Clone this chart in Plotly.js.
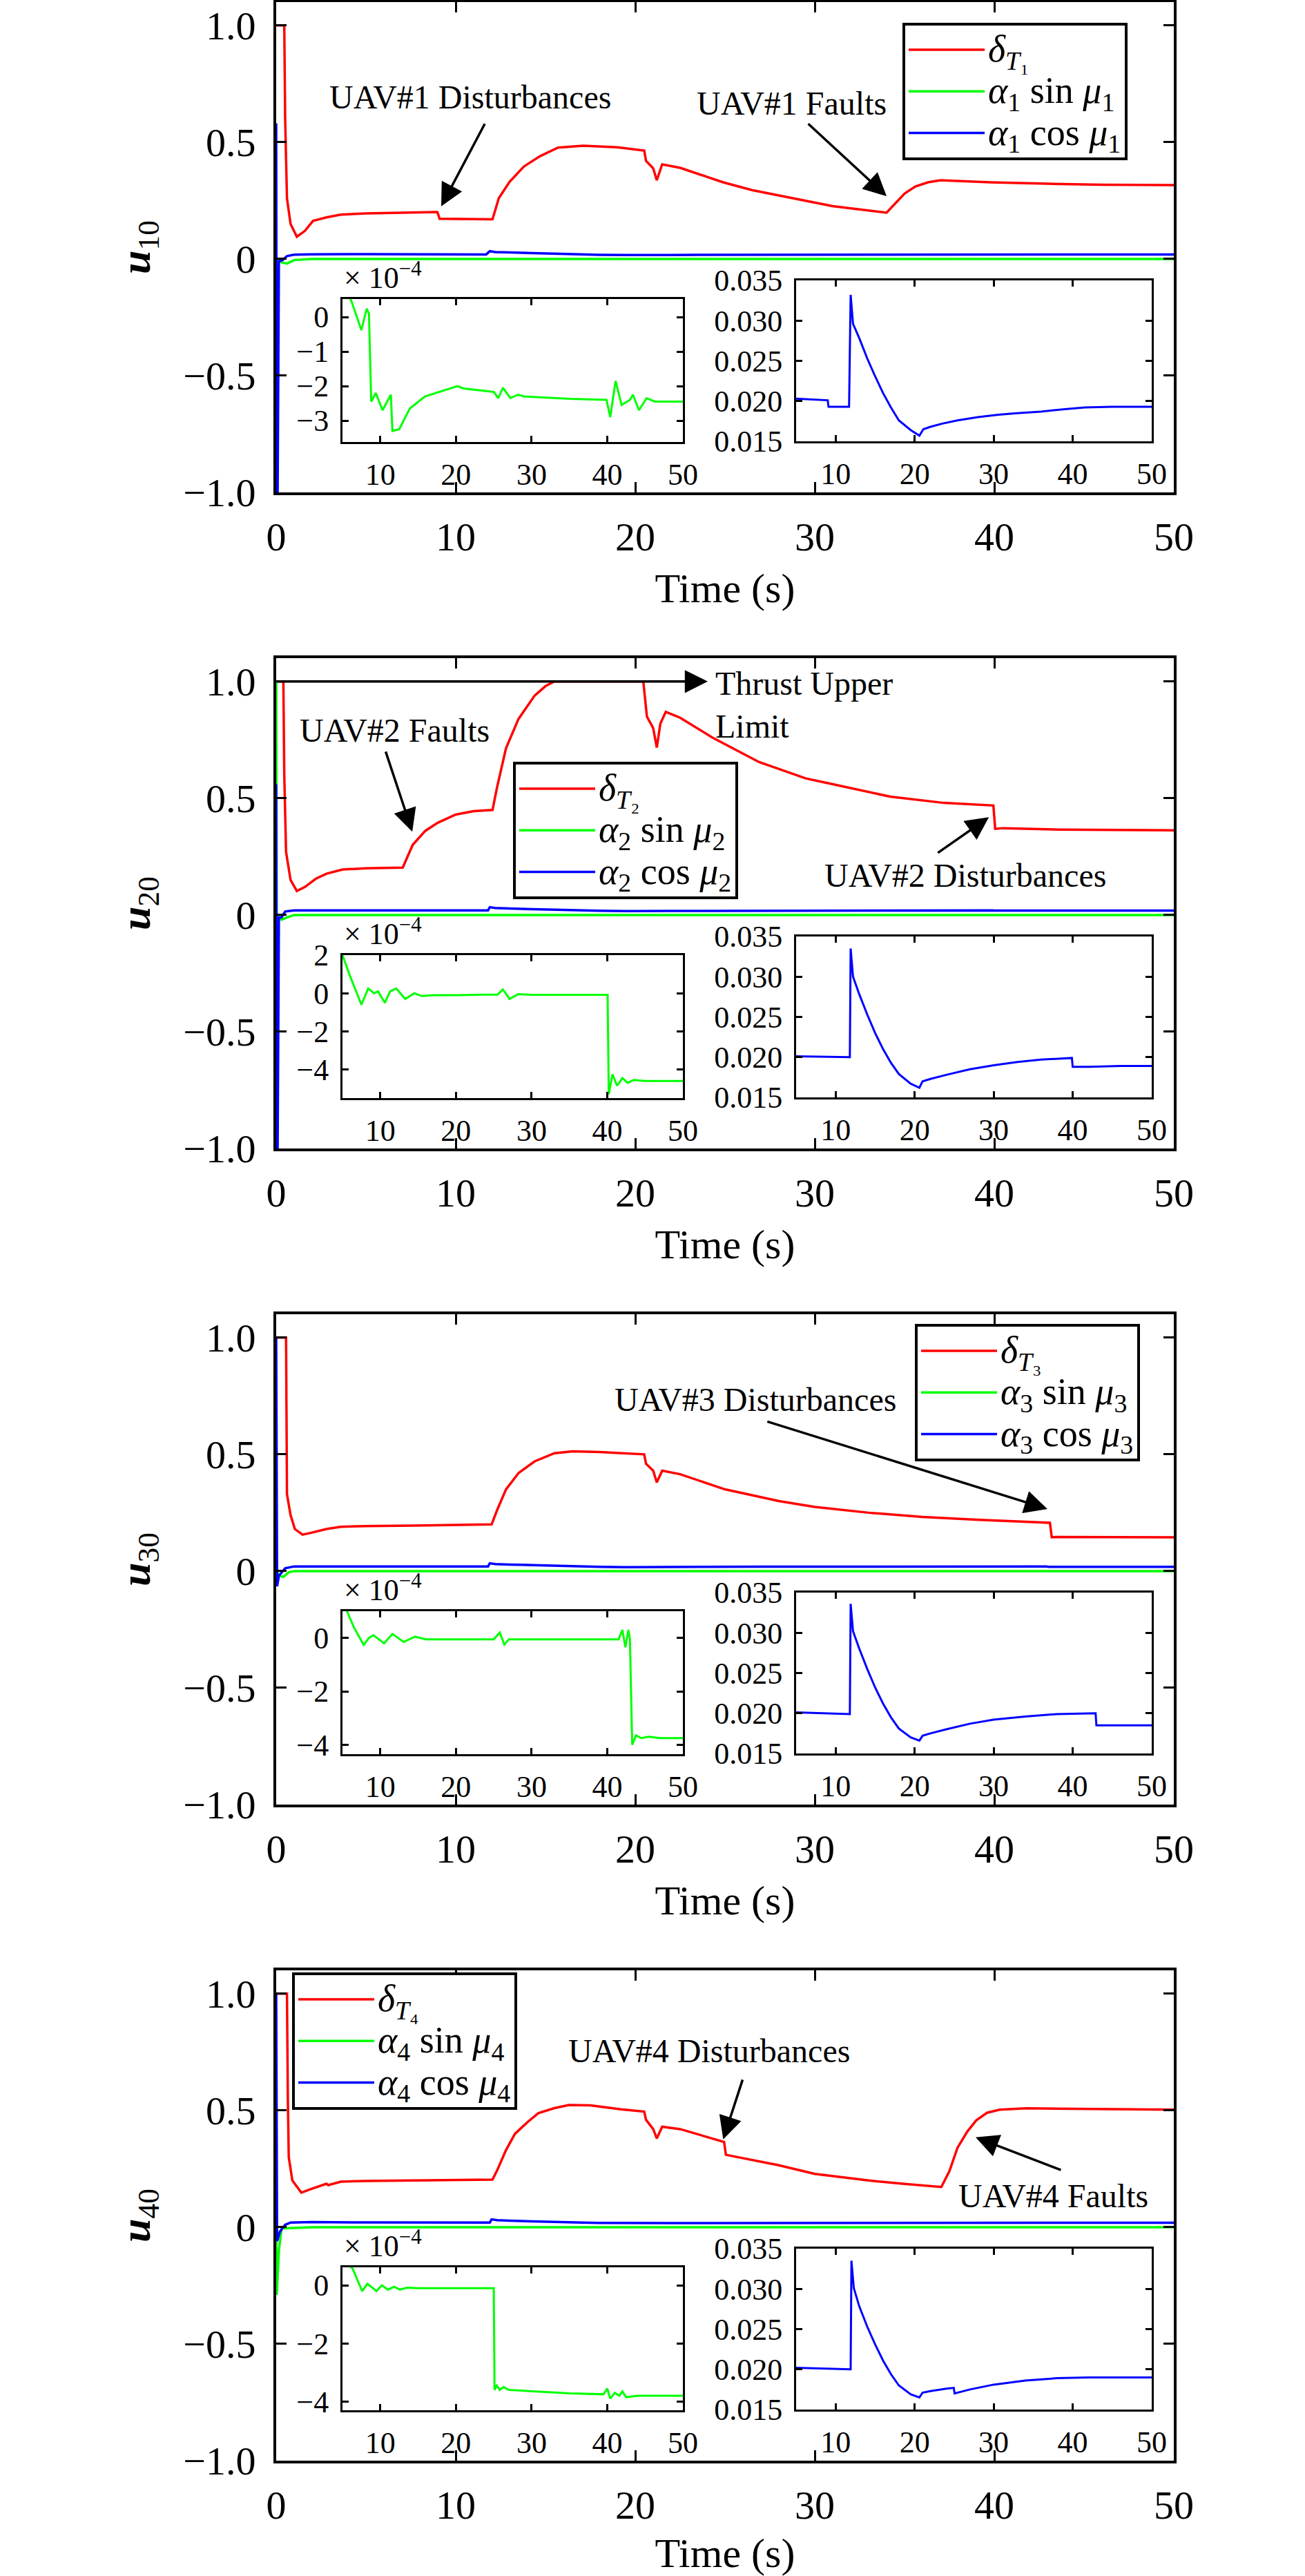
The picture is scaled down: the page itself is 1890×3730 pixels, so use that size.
<!DOCTYPE html>
<html>
<head>
<meta charset="utf-8">
<script src="https://cdn.plot.ly/plotly-3.0.1.min.js"></script>
<style>
  body{margin:0;background:#fff}
  #chart{width:1890px;height:3730px}
</style>
</head>
<body>
<div id="chart"></div>
<script>
"use strict"

// ---- panel 1 : UAV#1 ----
const p1RedT = [0,0.45,0.5,0.6,0.8,1.15,1.6,2.05,2.8,3.3,3.6,5,6.4,8.97,9.05,9.1,11.95,12.05,12.4,13,13.8,14.7,15.7,17.1,19,20.5,20.6,21.0,21.2,21.5,22.5,24.9,26.5,28.7,31,34.0,34.5,35,35.6,36.3,37,39.8,43,46,50]
const p1RedV = [1.0,1.0,0.6,0.26,0.15,0.095,0.12,0.163,0.178,0.185,0.19,0.195,0.198,0.201,0.185,0.172,0.17,0.17,0.26,0.33,0.396,0.44,0.477,0.485,0.478,0.464,0.42,0.388,0.337,0.405,0.39,0.328,0.295,0.26,0.226,0.198,0.24,0.28,0.31,0.328,0.337,0.328,0.322,0.318,0.316]
const p1GreenT0 = [0,0.1,0.3,0.6,1.0,2]
const p1GreenV0 = [0,-0.005,-0.015,-0.02,-0.005,0]
const p1GreenT = [5,6.2,7.5,8.2,8.5,8.8,9.4,10.3,11.4,11.6,12.5,13.9,15.9,18.4,20.2,21,25,25.6,26.2,27.2,28.2,29,35.1,39.9,40.4,41.1,41.9,43,43.4,44.2,45.2,46.3,50]
const p1GreenV = [1.0,0.45,-0.38,0.24,0.1,-2.45,-2.2,-2.7,-2.25,-3.3,-3.25,-2.65,-2.3,-2.12,-2.0,-2.07,-2.17,-2.35,-2.05,-2.35,-2.25,-2.3,-2.37,-2.4,-2.9,-1.85,-2.55,-2.4,-2.25,-2.7,-2.35,-2.45,-2.45]
const p1BlueT0 = [0,0.03,0.08,0.15,0.35,0.6,1.0,2]
const p1BlueV0 = [0.58,-1.0,-1.0,-0.01,-0.005,0.012,0.018,0.02]
const p1BlueT = [5,9,9.1,11.7,11.9,12.2,13,14,14.9,16,17,18,19.5,20.6,21.1,22,23.5,25.4,28,30.6,33,36,39,41.5,45,50]
const p1BlueV = [0.0203,0.0201,0.0193,0.0193,0.0332,0.0296,0.0278,0.0253,0.0233,0.0210,0.0192,0.0176,0.0164,0.0157,0.0165,0.0168,0.0172,0.0176,0.018,0.0183,0.0185,0.0187,0.019,0.0192,0.0193,0.0193]

// ---- panel 2 : UAV#2 ----
const p2RedT = [0,0.4,0.45,0.55,0.8,1.15,1.6,2.2,2.8,3.7,5,7.05,7.6,8.3,9,10,11,12.05,12.3,12.8,13.5,14.4,15,15.5,20.45,20.65,21.0,21.2,21.4,21.7,22.5,24.3,26.9,29.5,31,34.2,37.2,39.95,40.05,40.5,43.6,50]
const p2RedV = [1.0,1.0,0.6,0.27,0.15,0.103,0.12,0.155,0.177,0.195,0.2,0.203,0.3,0.36,0.395,0.43,0.445,0.45,0.546,0.714,0.84,0.94,0.98,1.0,1.0,0.85,0.80,0.717,0.82,0.87,0.845,0.76,0.655,0.585,0.56,0.507,0.48,0.469,0.369,0.372,0.366,0.363]
const p2GreenT0 = [0,0.03,0.1,0.3,0.6,1.0,2]
const p2GreenV0 = [1.0,0.0,-0.01,-0.02,-0.01,0,0]
const p2GreenT = [5,6,7.5,8.4,9.2,9.7,10.6,11.3,12.1,13.3,14.5,15.5,17,20,23.6,25.5,26.2,27.1,28.2,30,35,40.05,40.2,40.7,41.3,42,42.7,43.5,45,50]
const p2GreenV = [2.0,0.9,-0.6,0.25,0.0,0.1,-0.5,0.1,0.25,-0.3,0.0,-0.15,-0.1,-0.1,-0.07,-0.07,0.2,-0.3,-0.05,-0.08,-0.08,-0.08,-5.3,-4.25,-4.85,-4.45,-4.7,-4.55,-4.6,-4.6]
const p2BlueT0 = [0,0.03,0.08,0.15,0.3,0.5,1.0,2]
const p2BlueV0 = [0.56,-1.0,-1.0,-0.01,-0.01,0.015,0.02,0.02]
const p2BlueT = [5,11.8,11.9,12.2,13,14,15,16,17,18,19.5,20.6,21.0,22,24,27,30,33,36,39.9,40.0,42,46,50]
const p2BlueV = [0.0201,0.0200,0.0335,0.0300,0.0278,0.0253,0.0230,0.0210,0.0193,0.0179,0.0167,0.0162,0.0170,0.0173,0.0178,0.0185,0.019,0.0194,0.0197,0.0199,0.0188,0.0188,0.0189,0.0189]

// ---- panel 3 : UAV#3 ----
const p3RedT = [0,0.55,0.6,0.8,1.04,1.47,2,2.8,3.6,5,7.7,12.0,12.3,12.8,13.5,14.4,15.5,16.5,18,20.5,20.6,21.0,21.2,21.5,22.5,25,28,30,33,36,39,43.1,43.2,43.5,50]
const p3RedV = [1.0,1.0,0.33,0.24,0.18,0.156,0.165,0.18,0.19,0.193,0.195,0.2,0.26,0.35,0.42,0.47,0.505,0.513,0.51,0.5,0.46,0.43,0.38,0.43,0.415,0.35,0.3,0.275,0.25,0.232,0.22,0.207,0.145,0.146,0.145]
const p3GreenT0 = [0,0.2,0.4,0.7,1.0,2]
const p3GreenV0 = [0,-0.02,-0.025,-0.005,0,0]
const p3GreenT = [5,5.6,6.5,7.8,8.5,9.1,9.8,10.5,11.6,12.3,13.1,14.6,16,20,25,25.8,26.4,27,30,35,41.5,42.0,42.4,42.8,43.0,43.3,43.8,44.5,45.5,47,50]
const p3GreenV = [1.2,1.0,0.4,-0.26,0.0,0.1,-0.05,-0.2,0.15,0.0,-0.15,0.05,-0.05,-0.05,-0.05,0.2,-0.25,-0.05,-0.05,-0.05,-0.05,0.3,-0.35,0.3,-0.05,-4.0,-3.65,-3.75,-3.7,-3.75,-3.75]
const p3BlueT0 = [0,0.05,0.15,0.3,0.5,1.0,2]
const p3BlueV0 = [1.0,-0.065,-0.02,-0.005,0.012,0.02,0.02]
const p3BlueT = [5,11.8,11.9,12.2,13,14,15,16,17,18,19.5,20.6,21.0,22,24,27,30,34,38,42.9,43.0,45,50]
const p3BlueV = [0.0201,0.0199,0.0336,0.0302,0.0280,0.0255,0.0232,0.0212,0.0195,0.0181,0.0170,0.0166,0.0172,0.0175,0.0180,0.0187,0.0192,0.0196,0.0199,0.0200,0.0185,0.0185,0.0185]

// ---- panel 4 : UAV#4 ----
const p4RedT = [0,0.6,0.65,0.7,0.9,1.4,2,2.8,2.9,3.6,5,8,12.05,12.3,12.8,13.3,14,14.6,15.5,16.3,17.5,19.2,20.5,20.6,21.0,21.2,21.5,22.5,24.95,25.05,26,28,30,33,35,37.05,37.5,37.95,38.5,39,39.6,40.3,41.8,45,50]
const p4RedV = [1.0,1.0,0.55,0.3,0.2,0.148,0.165,0.186,0.18,0.195,0.198,0.2,0.204,0.242,0.33,0.40,0.45,0.488,0.51,0.523,0.522,0.505,0.495,0.46,0.42,0.38,0.43,0.42,0.365,0.31,0.295,0.265,0.228,0.2,0.185,0.172,0.24,0.34,0.41,0.458,0.49,0.503,0.509,0.507,0.503]
const p4GreenT0 = [0,0.03,0.15,0.3,0.5,2]
const p4GreenV0 = [0,-0.29,-0.1,-0.005,-0.005,0]
const p4GreenT = [5,6.3,7.6,8.3,8.8,9.5,10.2,11,11.8,12.6,13.5,15,20,25.0,25.1,25.4,25.8,26.3,27,30,35,39.5,40,40.4,41,41.6,42,42.5,44,47,50]
const p4GreenV = [0.8,0.6,-0.2,0.05,-0.05,-0.2,0.0,-0.15,-0.05,-0.15,-0.08,-0.1,-0.1,-0.1,-3.6,-3.45,-3.6,-3.5,-3.6,-3.65,-3.72,-3.75,-3.55,-3.9,-3.7,-3.8,-3.65,-3.85,-3.8,-3.8,-3.8]
const p4BlueT0 = [0,0.05,0.2,0.5,0.8,2]
const p4BlueV0 = [1.0,-0.06,-0.02,0.01,0.02,0.022]
const p4BlueT = [5,11.9,12.0,12.3,13,14,15,16,17,18,19.5,20.6,21.0,22,24,24.95,25.05,27,30,34,38,42,46,50]
const p4BlueV = [0.0202,0.0200,0.0335,0.0301,0.0278,0.0253,0.0231,0.0211,0.0194,0.018,0.0169,0.0165,0.0171,0.0173,0.0176,0.0177,0.0170,0.0175,0.0181,0.0186,0.0189,0.019,0.019,0.019]

// tick labels
const mainXTicks = [0,10,20,30,40,50]
const mainYTicks = [-1,-0.5,0,0.5,1]
const mainYText = ["\u22121.0","\u22120.5","0","0.5","1.0"]
const insetXTicks = [10,20,30,40,50]
const cosTicks = [0.015,0.02,0.025,0.03,0.035]
const cosText = ["0.015","0.020","0.025","0.030","0.035"]
const subDigits = ["\u2081","\u2082","\u2083","\u2084"]

const W = 1890, H = 3730
const FONT = "Liberation Serif, Times New Roman, serif"
const xdom = (x0,x1)=>[x0/W, x1/W]
const ydom = (y0,y1)=>[1-y1/H, 1-y0/H]
const minus = v=>v<0 ? "\u2212"+Math.abs(v) : String(v)
// legend rows keep a tight pitch; entry text itself drawn larger
const big = s=>`<span style="font-size:54px">${s}</span>`

const panels = [
  {red:[p1RedT,p1RedV], g0:[p1GreenT0,p1GreenV0], g:[p1GreenT,p1GreenV], b0:[p1BlueT0,p1BlueV0], b:[p1BlueT,p1BlueV],
   gRange:[-3.62,0.52], gTicks:[-3,-2,-1,0], legend:[1307,33],
   arrows:[[11.65,0.583,9.19,0.225],[29.58,0.583,34.0,0.269]],
   notes:[["UAV#1 Disturbances",10.8,0.692,"center"],["UAV#1 Faults",28.7,0.666,"center"]]},
  {red:[p2RedT,p2RedV], g0:[p2GreenT0,p2GreenV0], g:[p2GreenT,p2GreenV], b0:[p2BlueT0,p2BlueV0], b:[p2BlueT,p2BlueV],
   gRange:[-5.5,2.0], gTicks:[-4,-2,0,2], legend:[743,1103],
   arrows:[[6.08,0.704,7.58,0.357],[0,1.0,24.04,1.0],[36.8,0.263,39.7,0.419]],
   notes:[["UAV#2 Faults",6.6,0.79,"center"],["Thrust Upper<br>Limit",24.4,0.90,"left"],["UAV#2 Disturbances",38.4,0.169,"center"]]},
  {red:[p3RedT,p3RedV], g0:[p3GreenT0,p3GreenV0], g:[p3GreenT,p3GreenV], b0:[p3BlueT0,p3BlueV0], b:[p3BlueT,p3BlueV],
   gRange:[-4.35,1.0], gTicks:[-4,-2,0], legend:[1325,1917],
   arrows:[[27.3,0.642,42.96,0.266]],
   notes:[["UAV#3 Disturbances",26.7,0.734,"center"]]},
  {red:[p4RedT,p4RedV], g0:[p4GreenT0,p4GreenV0], g:[p4GreenT,p4GreenV], b0:[p4BlueT0,p4BlueV0], b:[p4BlueT,p4BlueV],
   gRange:[-4.3,0.62], gTicks:[-4,-2,0], legend:[423,2856],
   arrows:[[26.0,0.636,24.9,0.376],[43.77,0.243,38.96,0.385]],
   notes:[["UAV#4 Disturbances",24.1,0.754,"center"],["UAV#4 Faults",43.3,0.133,"center"]]},
]

const axisName = (c,n)=> n===1 ? c+"axis" : c+"axis"+n
const axisRef = (c,n)=> n===1 ? c : c+n

const baseAxis = (lw,tl,fs)=>({
  showline:true, linecolor:"black", linewidth:lw, mirror:"ticks",
  ticks:"inside", ticklen:tl, tickwidth:3, tickcolor:"black",
  showgrid:false, zeroline:false, fixedrange:true,
  tickfont:{family:FONT, size:fs, color:"black"},
})

const data = []
const layout = {
  width:W, height:H,
  margin:{l:0,r:0,t:0,b:0},
  paper_bgcolor:"white", plot_bgcolor:"white",
  font:{family:FONT, color:"black"},
  annotations:[],
}

panels.forEach((p,k)=>{
  const oy = 950*k
  const i = k+1
  const nM = 3*k+1, nG = 3*k+2, nB = 3*k+3
  const legendId = k===0 ? "legend" : "legend"+i
  const xM = axisRef("x",nM), yM = axisRef("y",nM)

  // main axes
  layout[axisName("x",nM)] = Object.assign(baseAxis(4,15,58),{
    domain:xdom(400,1700), range:[0,50], anchor:yM,
    tickvals:mainXTicks, ticklabelstandoff:10,
    title:{text:"Time (s)", font:{family:FONT,size:60}, standoff:22},
  })
  layout[axisName("y",nM)] = Object.assign(baseAxis(4,15,58),{
    domain:ydom(3+oy,713+oy), range:[-1,1.1], anchor:xM,
    tickvals:mainYTicks, ticktext:mainYText, ticklabelstandoff:14,
    title:{text:`<b><i>u</i></b><sub>${i}0</sub>`, font:{family:FONT,size:62}, standoff:28},
  })
  // green inset
  layout[axisName("x",nG)] = Object.assign(baseAxis(3,9,44),{
    domain:xdom(496,989), range:[5,50], anchor:axisRef("y",nG),
    tickvals:insetXTicks, ticklabelstandoff:6,
  })
  layout[axisName("y",nG)] = Object.assign(baseAxis(3,9,44),{
    domain:ydom(433+oy,640+oy), range:p.gRange, anchor:axisRef("x",nG),
    tickvals:p.gTicks, ticktext:p.gTicks.map(minus), ticklabelstandoff:8,
  })
  // blue inset
  layout[axisName("x",nB)] = Object.assign(baseAxis(3,9,44),{
    domain:xdom(1153,1668), range:[5,50], anchor:axisRef("y",nB),
    tickvals:insetXTicks, ticklabelstandoff:6,
  })
  layout[axisName("y",nB)] = Object.assign(baseAxis(3,9,44),{
    domain:ydom(406+oy,639+oy), range:[0.015,0.035], anchor:axisRef("x",nB),
    tickvals:cosTicks, ticktext:cosText, ticklabelstandoff:8,
  })

  layout[legendId] = {
    x:p.legend[0]/W, y:1-p.legend[1]/H, xanchor:"left", yanchor:"top",
    bgcolor:"white", bordercolor:"black", borderwidth:4,
    font:{family:FONT, size:44, color:"black"},
    itemwidth:110, tracegroupgap:0,
  }

  const names = [
    big(`<i>δ</i><sub><i>T</i>${subDigits[k]}</sub>`),
    big(`<i>α</i><sub>${i}</sub> sin <i>μ</i><sub>${i}</sub>`),
    big(`<i>α</i><sub>${i}</sub> cos <i>μ</i><sub>${i}</sub>`),
  ]

  data.push({x:p.red[0], y:p.red[1], xaxis:xM, yaxis:yM, mode:"lines", name:names[0],
    legend:legendId, line:{color:"#ff0000", width:3.5}})
  data.push({x:p.g0[0].concat(p.g[0]), y:p.g0[1].concat(p.g[1].map(v=>v*1e-4)), xaxis:xM, yaxis:yM,
    mode:"lines", name:names[1], legend:legendId, line:{color:"#00ff00", width:3.5}})
  data.push({x:p.b0[0].concat(p.b[0]), y:p.b0[1].concat(p.b[1]), xaxis:xM, yaxis:yM,
    mode:"lines", name:names[2], legend:legendId, line:{color:"#0000ff", width:3.5}})
  data.push({x:p.g[0], y:p.g[1], xaxis:axisRef("x",nG), yaxis:axisRef("y",nG),
    mode:"lines", showlegend:false, line:{color:"#00ff00", width:3}})
  data.push({x:p.b[0], y:p.b[1], xaxis:axisRef("x",nB), yaxis:axisRef("y",nB),
    mode:"lines", showlegend:false, line:{color:"#0000ff", width:3}})

  // x 10^-4 factor label of the green inset
  layout.annotations.push({
    xref:axisRef("x",nG)+" domain", yref:axisRef("y",nG)+" domain",
    x:0, y:1.02, xanchor:"left", yanchor:"bottom", showarrow:false,
    text:"\u00d7 10<sup>\u22124</sup>", font:{family:FONT,size:44},
  })

  p.arrows.forEach(a=>{
    layout.annotations.push({
      xref:xM, yref:yM, axref:xM, ayref:yM,
      x:a[2], y:a[3], ax:a[0], ay:a[1], text:"",
      showarrow:true, arrowhead:2, arrowsize:1.9, arrowwidth:3.5, arrowcolor:"black", standoff:0,
    })
  })
  p.notes.forEach(n=>{
    layout.annotations.push({
      xref:xM, yref:yM, x:n[1], y:n[2], text:n[0], showarrow:false,
      xanchor:n[3], yanchor:"middle", align:"left",
      font:{family:FONT, size:48, color:"black"},
    })
  })
})

Plotly.newPlot("chart", data, layout, {displayModeBar:false, staticPlot:true})
</script>
</body>
</html>
